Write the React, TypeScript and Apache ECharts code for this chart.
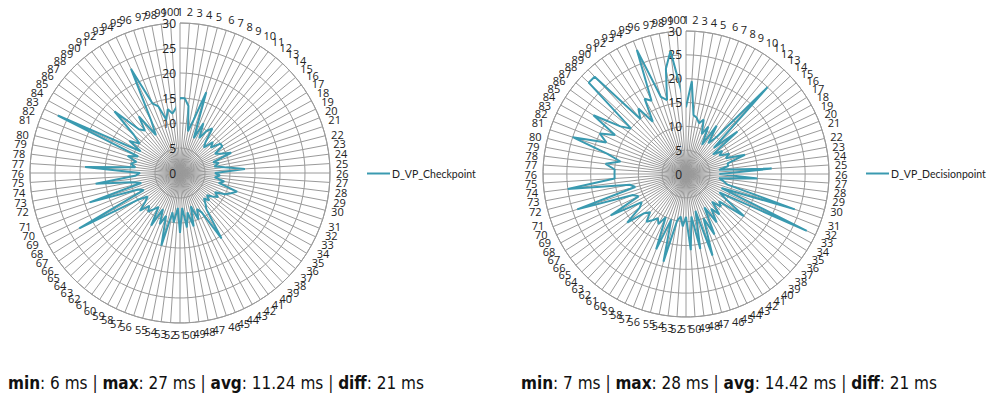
import React, { useEffect, useRef } from 'react';
import * as echarts from 'echarts';

const categories: string[] = Array.from({ length: 100 }, (_, i) => String(i + 1));

const checkpointName = 'D_VP_Checkpoint';
const decisionName = 'D_VP_Decisionpoint';

const checkpointValues = [
  15, 15, 13.5, 8.5, 11, 17, 7.5, 11, 8, 10,
  11, 8, 7, 9, 8, 10, 10, 8, 9, 11,
  7, 8, 7, 9, 13, 7, 8, 7, 9, 8,
  12, 11, 10, 8, 9, 8, 7, 8, 7, 8,
  9, 15.5, 9, 8, 10, 7, 11, 8, 11, 7,
  12, 7, 10, 8, 15, 9, 11, 8, 12, 8,
  9, 10, 9, 11, 9, 8, 10, 23, 8, 9,
  19, 8, 10, 17, 9, 8, 19, 9, 10, 9,
  11, 9, 27, 9, 12, 10, 12, 18, 12, 11,
  14, 9, 12, 23, 15, 14, 11, 13, 12, 13,
];

const decisionValues = [
  14, 19.5, 12.5, 12, 11, 12, 9, 11, 7, 12,
  8, 10, 25, 8, 14, 7, 9, 8, 10, 9,
  13, 9, 9, 7, 18, 7, 15, 7, 8, 9,
  24, 8, 28, 8, 10, 15, 9, 10, 8, 11,
  9, 12, 8, 14, 10, 18, 8, 16, 9, 16,
  9, 11, 9, 10, 19, 10, 17, 10, 12, 11,
  12, 13, 11, 12, 16, 12, 11, 18, 11, 12,
  24, 11, 12, 25, 15, 15, 15, 17, 14, 17,
  25, 18, 20, 17, 23, 17, 15, 28, 28, 15,
  17, 13, 18, 17, 28, 17, 16, 22.5, 26, 18,
];

const checkpointStats = ['6', '27', '11.24', '21'];
const decisionStats = ['7', '28', '14.42', '21'];

const radiusMax = 30;
const radiusInterval = 5;

const lineColor = '#3a9ab0';
const gridColor = '#9a9a9a';
const textFont = "'Liberation Sans Narrow', 'DejaVu Sans Condensed', 'Open Sans', sans-serif";
const labelFont = "'Open Sans', 'DejaVu Sans', sans-serif";
const legendFont = "Lato, 'Open Sans', sans-serif";

function closedData(vals: number[]) {
  const d = vals.map((v, i) => [v, i]);
  d.push([vals[0], 0]);
  return d;
}

function statsText(s: string[]) {
  return `{b|min}: ${s[0]} ms | {b|max}: ${s[1]} ms | {b|avg}: ${s[2]} ms | {b|diff}: ${s[3]} ms`;
}

function angleAxis(polarIndex: number) {
  return {
    polarIndex,
    type: 'category',
    data: categories,
    boundaryGap: false,
    startAngle: 90,
    clockwise: true,
    axisLine: { show: true, lineStyle: { color: gridColor, width: 1 } },
    axisTick: { show: false },
    axisLabel: { show: true, color: '#222', fontSize: 11, fontFamily: labelFont, margin: 6, interval: 0 },
    splitLine: { show: true, lineStyle: { color: gridColor, width: 1 } },
  };
}

function radiusAxis(polarIndex: number) {
  return {
    polarIndex,
    type: 'value',
    min: 0,
    max: radiusMax,
    interval: radiusInterval,
    axisLine: { show: false },
    axisTick: { show: false },
    axisLabel: { show: true, color: '#222', fontSize: 12, fontFamily: labelFont, margin: 4 },
    splitLine: { show: true, lineStyle: { color: gridColor, width: 1 } },
    z: 5,
  };
}

function legend(name: string, left: number) {
  return {
    data: [name],
    left,
    top: 168,
    orient: 'vertical',
    icon: 'rect',
    itemWidth: 23,
    itemHeight: 2,
    itemGap: 4,
    padding: 0,
    textStyle: { color: '#222', fontSize: 10.5, fontFamily: legendFont, padding: [0, 0, 0, -3] },
  };
}

export default function App() {
  const ref = useRef<HTMLDivElement>(null);
  useEffect(() => {
    if (!ref.current) return;
    const chart = echarts.init(ref.current, undefined, { renderer: 'svg' });
    chart.setOption({
      animation: false,
      backgroundColor: '#ffffff',
      polar: [
        { center: [180, 173], radius: 150 },
        { center: [686, 174], radius: 143 },
      ],
      angleAxis: [angleAxis(0), angleAxis(1)],
      radiusAxis: [radiusAxis(0), radiusAxis(1)],
      legend: [legend(checkpointName, 367), legend(decisionName, 866)],
      series: [
        {
          name: checkpointName,
          type: 'line',
          coordinateSystem: 'polar',
          polarIndex: 0,
          data: closedData(checkpointValues),
          symbol: 'none',
          lineStyle: { color: lineColor, width: 2 },
          itemStyle: { color: lineColor },
          z: 10,
        },
        {
          name: decisionName,
          type: 'line',
          coordinateSystem: 'polar',
          polarIndex: 1,
          data: closedData(decisionValues),
          symbol: 'none',
          lineStyle: { color: lineColor, width: 2 },
          itemStyle: { color: lineColor },
          z: 10,
        },
      ],
      graphic: [
        {
          type: 'text',
          left: 8,
          top: 374,
          style: {
            text: statsText(checkpointStats),
            fontSize: 17,
            fontFamily: textFont,
            fill: '#111',
            rich: { b: { fontWeight: 'bold', fontSize: 17, fontFamily: textFont, fill: '#111' } },
          },
        },
        {
          type: 'text',
          left: 521,
          top: 374,
          style: {
            text: statsText(decisionStats),
            fontSize: 17,
            fontFamily: textFont,
            fill: '#111',
            rich: { b: { fontWeight: 'bold', fontSize: 17, fontFamily: textFont, fill: '#111' } },
          },
        },
      ],
    });
    return () => chart.dispose();
  }, []);
  return (
    <div
      ref={ref}
      style={{ position: 'absolute', left: 0, top: 0, width: 989, height: 398 }}
    />
  );
}
